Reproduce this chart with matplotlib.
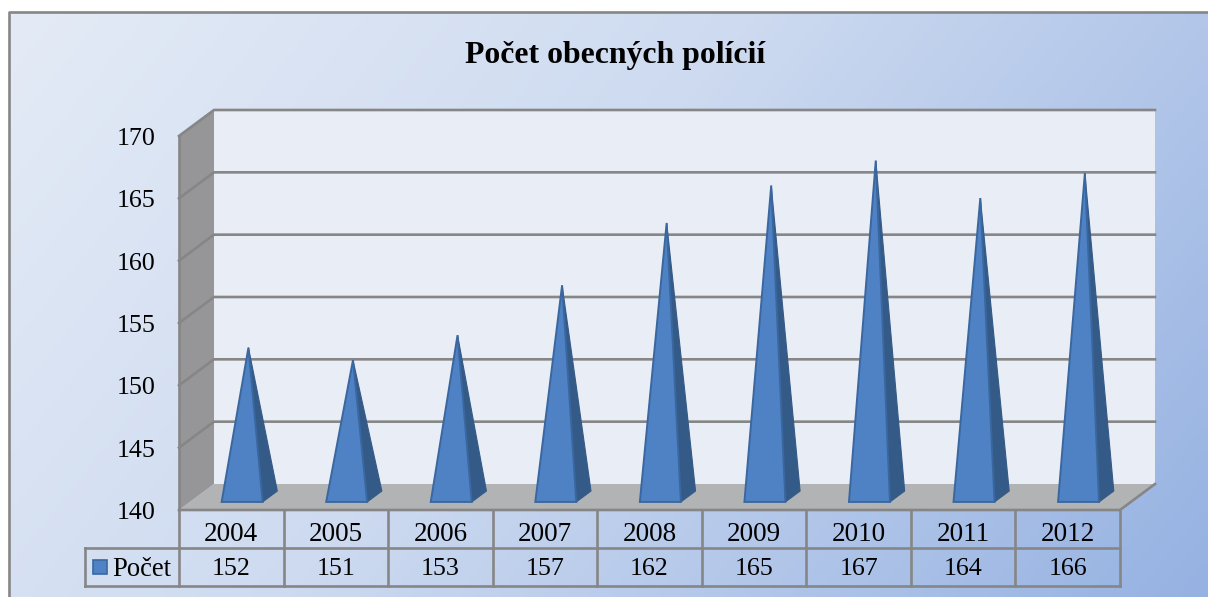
import numpy as np
import matplotlib
matplotlib.use("Agg")
import matplotlib.pyplot as plt
from matplotlib.patches import Polygon, Rectangle
from matplotlib.transforms import ScaledTranslation

plt.rcParams['font.family'] = ['Liberation Serif', 'DejaVu Serif']

title = "Počet obecných polícií"
years = ["2004", "2005", "2006", "2007", "2008", "2009", "2010", "2011", "2012"]
counts = [152, 151, 153, 157, 162, 165, 167, 164, 166]
series_name = "Počet"
y_ticks = [140, 145, 150, 155, 160, 165, 170]

W, H = 1208, 597
fig = plt.figure(figsize=(W / 100, H / 100), dpi=100, facecolor="white")

# background panel
bg = fig.add_axes([0, 0, 1, 1])
bg.set_xlim(0, W); bg.set_ylim(H, 0); bg.axis("off")
yy, xx = np.mgrid[0:1:60j, 0:1:120j]
t = np.clip(xx * 0.72 + yy * 0.28, 0, 1)[..., None]
c0 = np.array([228, 235, 246]) / 255
c1 = np.array([205, 218, 240]) / 255
c2 = np.array([150, 178, 226]) / 255
img = np.where(t < .45, c0 + (c1 - c0) * t / .45, c1 + (c2 - c1) * (t - .45) / .55)
bg.imshow(img, extent=(9, W, H, 12), aspect="auto", interpolation="bilinear", zorder=0)
bg.plot([9, 9, W], [H, 12, 12], color="#868686", lw=1.9, zorder=1, solid_capstyle="butt")
bg.set_xlim(0, W); bg.set_ylim(H, 0)

# front plane axes
L, R, T, B = 179, 1120, 136, 510
ax = fig.add_axes([L / W, 1 - B / H, (R - L) / W, (B - T) / H])
ax.patch.set_alpha(0)
ax.set_xlim(-0.5, 8.5); ax.set_ylim(140, 170)
for s in ax.spines.values():
    s.set_visible(False)
ax.set_xticks([]); ax.set_yticks([])

n = len(years)
DX = 35 / ((R - L) / n)
DY = 26 / ((B - T) / 30)
GRID = "#868686"
LW = 1.9

def P(x, v, d=0.0):
    return (x + d * DX, v + d * DY)

x0, x1 = -0.5, n - 0.5
vmin, vmax = y_ticks[0], y_ticks[-1]
kw = dict(clip_on=False)
cat_px = (R - L) / n
unit_px = (B - T) / 30
down3 = ax.transData + ScaledTranslation(0, -3 / 100, fig.dpi_scale_trans)

ax.add_patch(Polygon([P(x0, vmin, 1), P(x1, vmin, 1), P(x1, vmax, 1), P(x0, vmax, 1)],
                     fc="#E9EDF6", ec="none", zorder=1, **kw))
ax.add_patch(Polygon([P(x0, vmin), P(x0, vmin, 1), P(x0, vmax, 1), P(x0, vmax)],
                     fc="#969698", ec="none", zorder=1, **kw))
ax.add_patch(Polygon([P(x0, vmin), P(x1, vmin), P(x1, vmin, 1), P(x0, vmin, 1)],
                     fc="#B1B3B5", ec="none", zorder=1, **kw))
for v in y_ticks:
    if v > vmin:
        pts = [P(x0, v), P(x0, v, 1), P(x1, v, 1)]
        ax.plot(*zip(*pts), color=GRID, lw=LW, zorder=2, **kw)
    ax.text(x0 - 23.5 / cat_px, v, str(v), transform=down3, ha="right", va="center",
            fontsize=18.7, color="black", zorder=5, clip_on=False)
ax.plot(*zip(*[P(x0, vmin), P(x1, vmin), P(x1, vmin, 1)]), color=GRID, lw=LW, zorder=2, **kw)
ax.plot(*zip(*[P(x0, vmin), P(x0, vmax)]), color=GRID, lw=LW, zorder=2, **kw)

# pyramids
HW, DF, DB, DA = 0.196, 0.31, 0.73, 0.49
FACE, SIDE, EDGE = "#4F82C4", "#345A87", "#3A679F"
for i, v in enumerate(counts):
    apex = P(i, v, DA)
    fl = P(i - HW, vmin, DF)
    fr = P(i + HW, vmin, DF)
    br = P(i + HW, vmin, DB)
    ax.add_patch(Polygon([fr, br, apex], fc=SIDE, ec=SIDE, lw=0.8, zorder=3, **kw))
    ax.add_patch(Polygon([fl, fr, apex], fc=FACE, ec=EDGE, lw=1.4, zorder=4, joinstyle="miter", **kw))

# data table (y in axes units extended below the front plane)
r1 = vmin - 37.5 / unit_px
r2 = vmin - 75.5 / unit_px
left = x0 - (L - 85) / cat_px
ax.plot([left, x1], [r1, r1], color=GRID, lw=LW, zorder=2, **kw)
ax.plot([left, x1], [r2, r2], color=GRID, lw=LW, zorder=2, **kw)
ax.plot([left, left], [r1, r2], color=GRID, lw=LW, zorder=2, **kw)
for k in range(n + 1):
    ax.plot([x0 + k] * 2, [vmin, r2], color=GRID, lw=LW, zorder=2, **kw)
for i, (yr, v) in enumerate(zip(years, counts)):
    ax.text(i, (vmin + r1) / 2, yr, transform=down3, ha="center", va="center_baseline",
            fontsize=19.5, zorder=5, clip_on=False)
    ax.text(i, (r1 + r2) / 2, str(v), ha="center", va="center_baseline",
            fontsize=18.7, zorder=5, clip_on=False)
ax.add_patch(Rectangle((left + 8 / cat_px, r1 - 12 / unit_px), 14 / cat_px, -14 / unit_px,
                       fc=FACE, ec=EDGE, lw=1.2, zorder=5, **kw))
ax.text(left + 27.5 / cat_px, (r1 + r2) / 2, series_name, ha="left", va="center_baseline",
        fontsize=19.2, zorder=5, clip_on=False)

fig.text(615 / W, 1 - 55 / H, title, ha="center", va="center", fontsize=22.9,
         fontweight="bold", color="black")

fig.savefig("out.png", dpi=100)
